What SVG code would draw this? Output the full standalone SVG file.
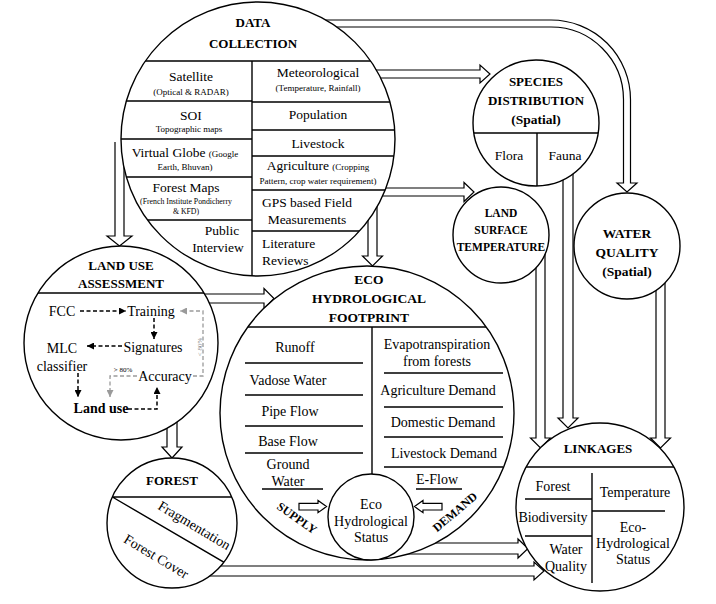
<svg xmlns="http://www.w3.org/2000/svg" width="716" height="604" viewBox="0 0 716 604" font-family="'Liberation Serif', 'Times New Roman', serif">
<style>
text{font-family:'Liberation Serif','Times New Roman',serif;fill:#000;text-anchor:middle}
text.l{text-anchor:start}
.t{font-size:13.5px}
.m{font-size:14px}
.s{font-size:9px}
.xs{font-size:7.8px}
.h{font-size:13px;font-weight:bold}
.hb{font-size:13.5px;font-weight:bold}
.sd{font-size:12px;font-weight:bold}
.nc{fill:#fff;stroke:#000;stroke-width:1.4}
.dl{stroke:#000;stroke-width:1.4;fill:none}
.ba{fill:#fff;stroke:#000;stroke-width:1.2}
.dk{stroke:#000;stroke-width:1.5;stroke-dasharray:4 2.5;fill:none}
.gr{stroke:#9a9a9a;stroke-width:1.3;stroke-dasharray:4 2.5;fill:none}
</style>
<defs>
<marker id="ak" viewBox="0 0 8 8" refX="8" refY="4" markerWidth="7" markerHeight="7" markerUnits="userSpaceOnUse" orient="auto"><path d="M0,0 L8,4 L0,8 z" fill="#000"/></marker>
<marker id="ag" viewBox="0 0 8 8" refX="8" refY="4" markerWidth="7" markerHeight="7" markerUnits="userSpaceOnUse" orient="auto"><path d="M0,0 L8,4 L0,8 z" fill="#9a9a9a"/></marker>
<clipPath id="cDC"><circle cx="258" cy="139" r="137"/></clipPath>
<clipPath id="cLUA"><circle cx="121" cy="343" r="97"/></clipPath>
<clipPath id="cEHF"><circle cx="367" cy="413" r="147"/></clipPath>
<clipPath id="cSP"><circle cx="536" cy="123" r="63"/></clipPath>
<clipPath id="cLK"><circle cx="600" cy="507" r="84"/></clipPath>
<clipPath id="cFO"><circle cx="172" cy="523" r="65"/></clipPath>
</defs>
<rect width="716" height="604" fill="#fff"/>

<g id="connectors">
<polygon class="ba" points="360,70 480,70 480,65 490,74 480,83 480,78 360,78"/>
<polygon class="ba" points="370,188 464,188 464,182.5 474,192 464,201.5 464,196 370,196"/>
<polygon class="ba" points="368,200 368,256 362.5,256 372.5,266 382.5,256 377,256 377,200"/>
<path class="ba" d="M115,142 V236 H107 L119.5,246 L132,236 H124 V142"/>
<polygon class="ba" points="190,294 264,294 264,288.5 274,298.5 264,308.5 264,303 190,303"/>
<polygon class="ba" points="167,410 167,447 162,447 172,458 182,447 177,447 177,410"/>
<polygon class="ba" points="200,566 534,566 534,562 544,571 534,580 534,576 200,576"/>
<polygon class="ba" points="400,543 518,543 518,539 528,548.5 518,558 518,554 400,554"/>
<polygon class="ba" points="563,165 563,418 558,418 568,428 578,418 573,418 573,165"/>
<polygon class="ba" points="536,245 536,438 530.5,438 540.5,448 550.5,438 545,438 545,245"/>
<polygon class="ba" points="656,275 656,438 650.5,438 660.5,448 670.5,438 665,438 665,275"/>
<path class="ba" d="M300,20 H551 A79.5,79.5 0 0 1 630.5,99.5 V183 H637 L627,192 L617,183 H623.5 V99.5 A72.5,72.5 0 0 0 551,27 H300 Z"/>
</g>

<g id="data-collection">
<circle class="nc" cx="258" cy="139" r="137"/>
<g clip-path="url(#cDC)">
<path class="dl" d="M100,61 H420 M252,61 V290 M100,101 H252 M100,139 H252 M100,177 H252 M100,220 H252 M252,102 H420 M252,130 H420 M252,156 H420 M252,190 H420 M252,231 H420"/>
</g>
<text class="h" x="253" y="27">DATA</text>
<text class="h" x="253" y="48">COLLECTION</text>
<text class="t" x="191" y="81">Satellite</text>
<text class="s" x="191" y="95">(Optical &amp; RADAR)</text>
<text class="t" x="191" y="120">SOI</text>
<text class="s" x="189" y="132">Topographic maps</text>
<text class="t" x="185" y="157">Virtual Globe <tspan class="s">(Google</tspan></text>
<text class="s" x="185" y="170">Earth, Bhuvan)</text>
<text class="t" x="186" y="192">Forest Maps</text>
<text class="xs" x="186" y="204">(French Institute Pondicherry</text>
<text class="xs" x="186" y="214">&amp; KFD)</text>
<text class="t" x="222" y="235">Public</text>
<text class="t" x="218" y="252">Interview</text>
<text class="t" x="318" y="77">Meteorological</text>
<text class="s" x="318" y="91">(Temperature, Rainfall)</text>
<text class="t" x="318" y="119">Population</text>
<text class="t" x="318" y="148">Livestock</text>
<text class="t" x="318" y="170">Agriculture <tspan class="s">(Cropping</tspan></text>
<text class="s" x="318" y="184">Pattern, crop water requirement)</text>
<text class="t" x="307" y="207">GPS based Field</text>
<text class="t" x="307" y="224">Measurements</text>
<text class="t l" x="262" y="248">Literature</text>
<text class="t l" x="262" y="265">Reviews</text>
</g>

<g id="species-distribution">
<circle class="nc" cx="536" cy="123" r="63"/>
<g clip-path="url(#cSP)"><path class="dl" d="M470,133 H605 M537,133 V200"/></g>
<text class="h" x="536" y="86">SPECIES</text>
<text class="h" x="536" y="105">DISTRIBUTION</text>
<text class="hb" x="536" y="124">(Spatial)</text>
<text class="t" x="509" y="160">Flora</text>
<text class="t" x="565" y="160">Fauna</text>
</g>

<g id="land-surface-temperature">
<circle class="nc" cx="501" cy="235" r="48"/>
<text x="501" y="217" style="font-size:11.5px;font-weight:bold">LAND</text>
<text x="501" y="234" style="font-size:11.5px;font-weight:bold">SURFACE</text>
<text x="501" y="251" style="font-size:11.5px;font-weight:bold">TEMPERATURE</text>
</g>

<g id="water-quality">
<circle class="nc" cx="627" cy="246" r="53"/>
<text class="hb" x="627" y="238">WATER</text>
<text class="hb" x="627" y="257">QUALITY</text>
<text class="hb" x="627" y="276">(Spatial)</text>
</g>

<g id="land-use-assessment">
<circle class="nc" cx="121" cy="343" r="97"/>
<g clip-path="url(#cLUA)"><path class="dl" d="M20,293 H225"/></g>
<text class="h" x="121" y="270">LAND USE</text>
<text class="h" x="121" y="288">ASSESSMENT</text>
<text class="m" x="62" y="316">FCC</text>
<text class="m" x="151" y="316">Training</text>
<text class="m" x="153" y="352">Signatures</text>
<text class="m" x="62" y="353">MLC</text>
<text class="m" x="62" y="371">classifier</text>
<text class="m" x="165" y="381">Accuracy</text>
<text x="101" y="413" style="font-size:14px;font-weight:bold">Land use</text>
<text x="123" y="372" style="font-size:7px">&gt; 80%</text>
<text transform="translate(199,347) rotate(-90)" y="2.5" style="font-size:7px;fill:#888">&lt; 80%</text>
<path class="dk" d="M80,311 H126" marker-end="url(#ak)"/>
<path class="dk" d="M154,318 V339" marker-end="url(#ak)"/>
<path class="dk" d="M122,346 H87" marker-end="url(#ak)"/>
<path class="dk" d="M78,373 V397" marker-end="url(#ak)"/>
<path class="dk" d="M128,409 H157 V387" marker-end="url(#ak)"/>
<path class="gr" d="M193,376 H203 V311 H180" marker-end="url(#ag)"/>
<path class="gr" d="M137,376 H110 V397" marker-end="url(#ag)"/>
</g>

<g id="eco-hydrological-footprint">
<circle class="nc" cx="367" cy="413" r="147"/>
<g clip-path="url(#cEHF)"><path class="dl" d="M210,327 H530"/></g>
<path class="dl" d="M372,327 V474 M245,363 H363 M245,395 H363 M245,426 H363 M245,453 H363 M262,489 H323 M384,373 H503 M384,407 H503 M384,437 H503 M384,467 H503 M416,489 H462"/>
<text class="hb" x="369" y="284">ECO</text>
<text class="hb" x="369" y="303">HYDROLOGICAL</text>
<text class="hb" x="369" y="322">FOOTPRINT</text>
<text class="m" x="295" y="352">Runoff</text>
<text class="m" x="288" y="385">Vadose Water</text>
<text class="m" x="290" y="416">Pipe Flow</text>
<text class="m" x="288" y="446">Base Flow</text>
<text class="m" x="288" y="469">Ground</text>
<text class="m" x="288" y="486">Water</text>
<text class="m" x="437" y="349">Evapotranspiration</text>
<text class="m" x="437" y="366">from forests</text>
<text class="m" x="438" y="395">Agriculture Demand</text>
<text class="m" x="443" y="427">Domestic Demand</text>
<text class="m" x="444" y="458">Livestock Demand</text>
<text class="m" x="437" y="484">E-Flow</text>
<polygon class="ba" points="299,503.3 318,503.3 318,500.5 326.5,506.6 318,512.7 318,510 299,510"/>
<polygon class="ba" points="442,503.3 423,503.3 423,500.5 414.5,506.6 423,512.7 423,510 442,510"/>
<text class="sd" transform="translate(297,518) rotate(35)" y="4">SUPPLY</text>
<text class="sd" transform="translate(455,512) rotate(-40)" y="4">DEMAND</text>
</g>

<g id="eco-hydrological-status">
<circle class="nc" cx="371" cy="517" r="43"/>
<text class="m" x="371" y="509">Eco</text>
<text class="m" x="371" y="526">Hydrological</text>
<text class="m" x="371" y="542">Status</text>
</g>

<g id="forest">
<circle class="nc" cx="172" cy="523" r="65"/>
<g clip-path="url(#cFO)"><path class="dl" d="M100,497 H250 M112.4,497 L245,574.6"/></g>
<text class="h" x="172" y="485">FOREST</text>
<text class="m" transform="translate(194,526) rotate(31)" y="4">Fragmentation</text>
<text class="m" transform="translate(156,557) rotate(31)" y="4">Forest Cover</text>
</g>

<g id="linkages">
<circle class="nc" cx="600" cy="507" r="84"/>
<g clip-path="url(#cLK)"><path class="dl" d="M510,467 H690"/></g>
<path class="dl" d="M592,473 V583 M525,499 H592 M525,536 H592 M592,511 H665"/>
<text class="h" x="598" y="453">LINKAGES</text>
<text class="m" x="553" y="491">Forest</text>
<text class="m" x="553" y="522">Biodiversity</text>
<text class="m" x="566" y="554">Water</text>
<text class="m" x="566" y="571">Quality</text>
<text class="m" x="635" y="497">Temperature</text>
<text class="m" x="633" y="532">Eco-</text>
<text class="m" x="633" y="548">Hydrological</text>
<text class="m" x="633" y="564">Status</text>
</g>
</svg>
